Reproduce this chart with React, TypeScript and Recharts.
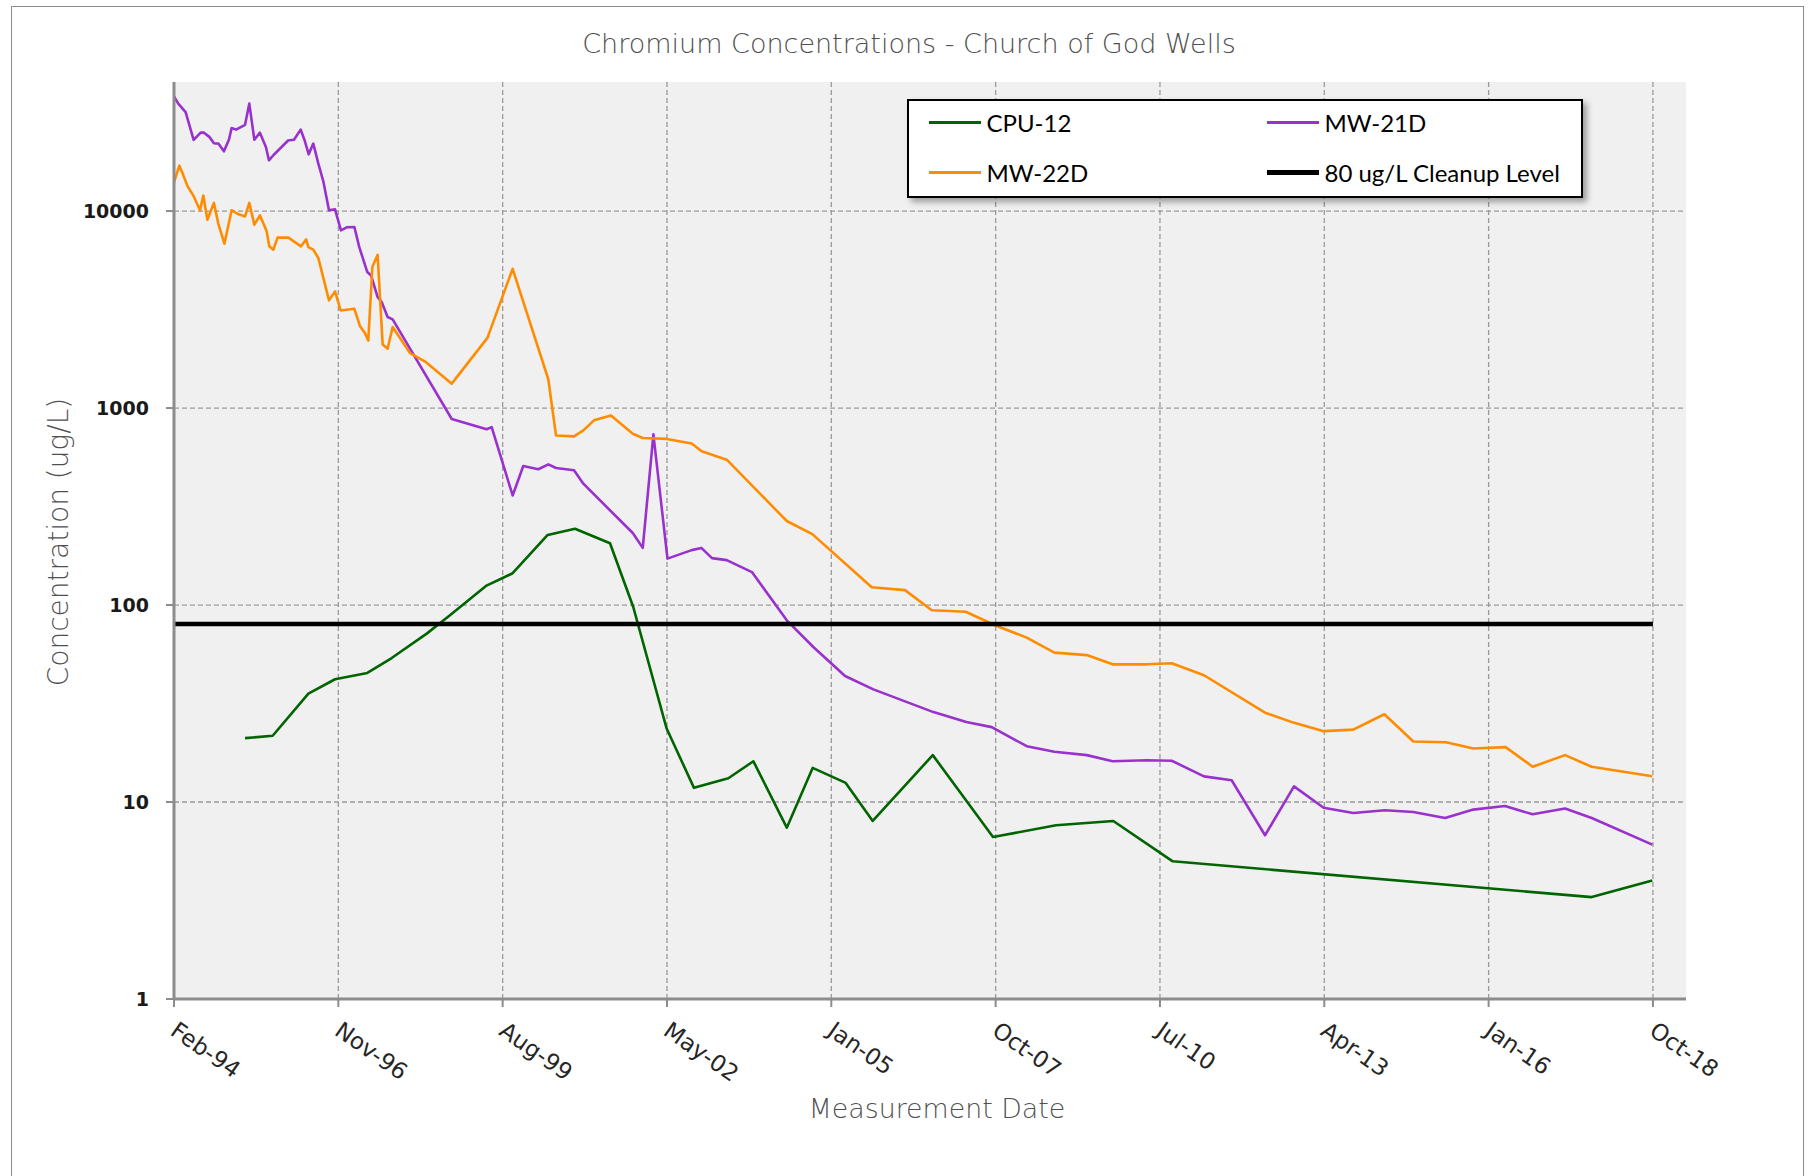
import React from 'react';
import { LineChart, Line, XAxis, YAxis, CartesianGrid, Legend } from 'recharts';

// Measurement dates are stored as day offsets from 1 Feb 1994 (the axis origin)
const START_UTC = Date.UTC(1994, 1, 1);
const DAY_MS = 86400000;
const MONTHS = ['Jan', 'Feb', 'Mar', 'Apr', 'May', 'Jun', 'Jul', 'Aug', 'Sep', 'Oct', 'Nov', 'Dec'];

const xTickDays = [0, 1004, 2008, 3012, 4016, 5020, 6024, 7028, 8032, 9036];
const yTicks = [1, 10, 100, 1000, 10000];

const cpu12Days = [434, 603, 821, 984, 1181, 1330, 1544, 1686, 1906, 2069, 2283, 2450, 2664, 2806, 3010, 3177, 3387, 3540, 3744, 3902, 4104, 4269, 4636, 5004, 5389, 5739, 6102, 8662, 9032];
const cpu12Values = [21.1, 21.7, 35.5, 42, 45.2, 53.8, 71.6, 88.7, 125, 145, 227, 244, 206, 97.7, 23.6, 11.8, 13.2, 16.1, 7.41, 14.9, 12.5, 8.01, 17.3, 6.64, 7.62, 8.01, 5.0, 3.29, 4.0];

const mw21dDays = [0, 26, 71, 120, 163, 183, 216, 244, 271, 305, 336, 352, 379, 434, 460, 491, 525, 562, 580, 607, 697, 733, 774, 800, 823, 851, 882, 912, 947, 984, 1020, 1055, 1102, 1132, 1181, 1204, 1244, 1269, 1305, 1336, 1697, 1910, 1941, 2069, 2134, 2226, 2287, 2334, 2444, 2501, 2803, 2864, 2929, 3015, 3163, 3222, 3287, 3377, 3531, 3744, 3906, 4100, 4273, 4640, 4841, 4996, 5210, 5379, 5577, 5735, 5943, 6096, 6293, 6462, 6666, 6843, 7024, 7205, 7399, 7572, 7766, 7938, 8132, 8301, 8499, 8662, 9032];
const mw21dValues = [38200, 35100, 31800, 23000, 25000, 25000, 23800, 22100, 22000, 20100, 23100, 26400, 25900, 27400, 35100, 23000, 25000, 21100, 18100, 19200, 22800, 23000, 25900, 22600, 19400, 22000, 17400, 14200, 10100, 10200, 7980, 8270, 8300, 6560, 4900, 4710, 3660, 3450, 2900, 2820, 880, 780, 800, 360, 508, 489, 518, 496, 483, 413, 232, 195, 735, 172, 190, 195, 173, 169, 147, 83.6, 61.2, 43.6, 37.3, 28.6, 25.5, 24.0, 19.2, 18.0, 17.3, 16.1, 16.3, 16.2, 13.5, 12.9, 6.78, 12.0, 9.35, 8.79, 9.08, 8.9, 8.29, 9.15, 9.54, 8.66, 9.26, 8.29, 6.08];

const mw22dDays = [0, 33, 57, 84, 118, 159, 179, 204, 244, 271, 308, 352, 387, 434, 460, 491, 525, 566, 582, 607, 633, 699, 776, 807, 821, 851, 882, 947, 984, 1018, 1102, 1136, 1167, 1187, 1212, 1244, 1275, 1305, 1336, 1442, 1540, 1697, 1915, 2069, 2287, 2334, 2444, 2501, 2566, 2670, 2803, 2864, 3010, 3163, 3224, 3377, 3744, 3900, 4263, 4466, 4630, 4837, 5016, 5210, 5379, 5577, 5735, 5943, 6096, 6293, 6666, 6839, 7024, 7205, 7395, 7572, 7772, 7938, 8136, 8301, 8499, 8662, 9032];
const mw22dValues = [14000, 17000, 15200, 13300, 12000, 10100, 12000, 9040, 11000, 8620, 6830, 10100, 9690, 9390, 11000, 8530, 9510, 7890, 6620, 6370, 7330, 7330, 6620, 7180, 6560, 6370, 5770, 3520, 3910, 3130, 3190, 2610, 2400, 2200, 5200, 6000, 2100, 2000, 2580, 1900, 1710, 1330, 2270, 5090, 1400, 726, 718, 770, 866, 916, 741, 705, 697, 660, 604, 547, 267, 229, 123, 119, 94, 92.4, 78.9, 68.3, 57.3, 55.7, 50.0, 50.0, 50.6, 44.0, 28.4, 25.3, 22.9, 23.3, 27.9, 20.3, 20.1, 18.7, 19.0, 15.1, 17.3, 15.1, 13.5];

const cleanupDays = [0, 9036];
const cleanupValues = [80, 80];

const toSeries = (days: number[], values: number[]) => days.map((d, i) => ({ d, v: values[i] }));

const cpu12Data = toSeries(cpu12Days, cpu12Values);
const mw21dData = toSeries(mw21dDays, mw21dValues);
const mw22dData = toSeries(mw22dDays, mw22dValues);
const cleanupData = toSeries(cleanupDays, cleanupValues);

const SERIES = [
  { name: 'CPU-12', color: '#006400', width: 2.6 },
  { name: 'MW-21D', color: '#9932CC', width: 2.6 },
  { name: 'MW-22D', color: '#FF8C00', width: 2.6 },
  { name: '80 ug/L Cleanup Level', color: '#000000', width: 4.5 },
];

const fmtDate = (d: number) => {
  const dt = new Date(START_UTC + d * DAY_MS);
  return `${MONTHS[dt.getUTCMonth()]}-${String(dt.getUTCFullYear() % 100).padStart(2, '0')}`;
};

const FONT = "'DejaVu Sans', sans-serif";

const applyScale = (axis: any, v: number) => {
  const s = axis && axis.scale;
  if (typeof s === 'function') return s(v);
  if (s && typeof s.map === 'function') return s.map(v);
  return 0;
};

const XTick = (props: any) => {
  const { x, y, payload } = props;
  const ax = x - 5;
  const ay = y + 25;
  return (
    <text x={ax} y={ay} transform={`rotate(35, ${ax}, ${ay})`} textAnchor="start" fontSize={23} fontFamily={FONT} fill="#262626">
      {fmtDate(payload.value)}
    </text>
  );
};

const YTick = (props: any) => {
  const { x, y, payload } = props;
  return (
    <text x={x - 15} y={y + 7} textAnchor="end" fontSize={19} fontWeight="bold" fontFamily={FONT} fill="#1a1a1a">
      {String(payload.value)}
    </text>
  );
};

const renderLegend = () => {
  const items = [
    { s: SERIES[0], left: 22, top: 24 },
    { s: SERIES[1], left: 360, top: 24 },
    { s: SERIES[2], left: 22, top: 74 },
    { s: SERIES[3], left: 360, top: 74 },
  ];
  return (
    <div
      style={{
        position: 'relative',
        width: 676,
        height: 99,
        boxSizing: 'border-box',
        border: '2.5px solid #000',
        background: '#fff',
        boxShadow: '4px 4px 6px rgba(0,0,0,0.35)',
      }}
    >
      {items.map((it) => (
        <div key={it.s.name} style={{ position: 'absolute', left: it.left - 2.5, top: it.top - 2.5, height: 0 }}>
          <div
            style={{
              position: 'absolute',
              left: 0,
              top: -it.s.width / 2,
              width: 52,
              height: it.s.width,
              background: it.s.color,
            }}
          />
          <div
            style={{
              position: 'absolute',
              left: 58,
              top: -15.5,
              lineHeight: '32px',
              whiteSpace: 'nowrap',
              fontFamily: 'Lato, sans-serif',
              fontSize: 24,
              color: '#000',
            }}
          >
            {it.s.name}
          </div>
        </div>
      ))}
    </div>
  );
};

export default function App() {
  return (
    <div style={{ position: 'absolute', left: 0, top: 0, width: 1810, height: 1176, overflow: 'hidden', background: '#fff' }}>
      <div
        style={{
          position: 'absolute',
          left: 11,
          top: 6,
          width: 1793,
          height: 1300,
          border: '1.5px solid #8c8c8c',
          boxSizing: 'border-box',
        }}
      />
      <div
        style={{
          position: 'absolute',
          left: 0,
          top: 28,
          width: 1818,
          textAlign: 'center',
          fontFamily: FONT,
          fontWeight: 200,
          fontSize: 27,
          color: '#505050',
          whiteSpace: 'nowrap',
        }}
      >
        Chromium Concentrations - Church of God Wells
      </div>
      <div style={{ position: 'absolute', left: 0, top: 0 }}>
        <LineChart width={1810} height={1176} margin={{ top: 82, right: 124, bottom: 77, left: 94 }}>
          <CartesianGrid
            fill="#F0F0F0"
            stroke="#9a9a9a"
            strokeDasharray="5 3"
            strokeWidth={1.3}
            horizontalCoordinatesGenerator={(p: any) => yTicks.map((t) => applyScale(p.yAxis, t))}
            verticalCoordinatesGenerator={(p: any) => xTickDays.map((t) => applyScale(p.xAxis, t))}
          />
          <XAxis
            type="number"
            dataKey="d"
            domain={[0, 9238]}
            ticks={xTickDays}
            interval={0}
            allowDataOverflow
            height={100}
            tickSize={8}
            axisLine={{ stroke: '#8c8c8c', strokeWidth: 3 }}
            tickLine={{ stroke: '#8c8c8c', strokeWidth: 2 }}
            tick={<XTick />}
            label={{
              content: () => (
                <text x={937} y={1118} textAnchor="middle" fontSize={26.8} fontWeight={200} fontFamily={FONT} fill="#505050">
                  Measurement Date
                </text>
              ),
            }}
          />
          <YAxis
            type="number"
            scale="log"
            domain={[1, 45200]}
            ticks={yTicks}
            interval={0}
            allowDataOverflow
            width={80}
            tickSize={8}
            axisLine={{ stroke: '#8c8c8c', strokeWidth: 3 }}
            tickLine={{ stroke: '#8c8c8c', strokeWidth: 2 }}
            tick={<YTick />}
            label={{
              content: () => (
                <text
                  x={58}
                  y={542}
                  transform="rotate(-90, 58, 542)"
                  textAnchor="middle"
                  dominantBaseline="central"
                  fontSize={28}
                  fontWeight={200}
                  fontFamily={FONT}
                  fill="#505050"
                >
                  Concentration (ug/L)
                </text>
              ),
            }}
          />
          <Legend
            layout="vertical"
            align="center"
            verticalAlign="middle"
            content={renderLegend}
            wrapperStyle={{ left: 907, top: 99, width: 676, height: 99 }}
          />
          <Line data={cpu12Data} dataKey="v" name={SERIES[0].name} type="linear" stroke={SERIES[0].color} strokeWidth={SERIES[0].width} strokeLinejoin="round" dot={false} activeDot={false} isAnimationActive={false} />
          <Line data={mw21dData} dataKey="v" name={SERIES[1].name} type="linear" stroke={SERIES[1].color} strokeWidth={SERIES[1].width} strokeLinejoin="round" dot={false} activeDot={false} isAnimationActive={false} />
          <Line data={mw22dData} dataKey="v" name={SERIES[2].name} type="linear" stroke={SERIES[2].color} strokeWidth={SERIES[2].width} strokeLinejoin="round" dot={false} activeDot={false} isAnimationActive={false} />
          <Line data={cleanupData} dataKey="v" name={SERIES[3].name} type="linear" stroke={SERIES[3].color} strokeWidth={SERIES[3].width} dot={false} activeDot={false} isAnimationActive={false} />
        </LineChart>
      </div>
    </div>
  );
}
